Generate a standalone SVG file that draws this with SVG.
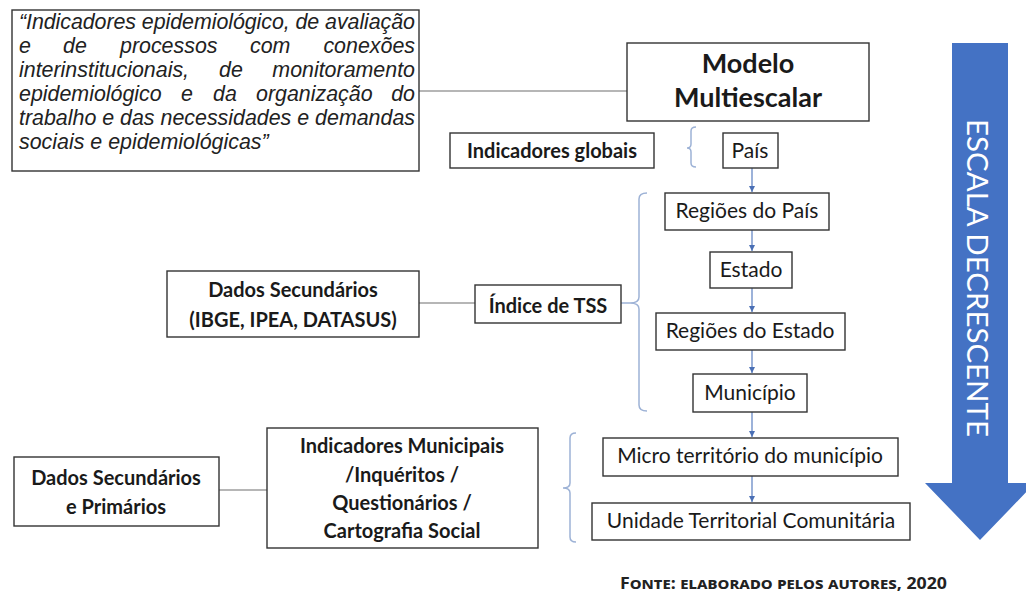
<svg xmlns="http://www.w3.org/2000/svg" width="1026" height="595" viewBox="0 0 1026 595">
<style>
.box{fill:#fff;stroke:#333;stroke-width:1.4}
.lbl{font-family:Lato,"Open Sans",sans-serif;font-size:21px;fill:#1a1a1a;text-anchor:middle}
.b{font-weight:bold}
.q{font-family:"Liberation Sans",Arial,sans-serif;font-style:italic;font-size:21.4px;fill:#222}
.link{stroke:#6e6e6e;stroke-width:1.2;fill:none}
.arr{stroke:#5b7fc0;stroke-width:1.2;fill:none;marker-end:url(#ah)}
.brace{stroke:#9db2d6;stroke-width:1.5;fill:none}
</style>
<defs>
<marker id="ah" markerWidth="8" markerHeight="8" refX="6" refY="3" orient="auto" markerUnits="userSpaceOnUse"><path d="M0,0 L6,3 L0,6 Z" fill="#4a6fb5"/></marker>
</defs>
<rect width="1026" height="595" fill="#fff"/>

<g id="connectors">
<line class="link" x1="419" y1="91" x2="627" y2="91"/>
<line class="link" x1="419" y1="303" x2="475" y2="303"/>
<line class="link" x1="219" y1="490" x2="267" y2="490"/>
<line class="arr" x1="752" y1="168" x2="752" y2="192"/>
<line class="arr" x1="752" y1="230" x2="752" y2="251"/>
<line class="arr" x1="752" y1="288" x2="752" y2="312"/>
<line class="arr" x1="752" y1="350" x2="752" y2="373"/>
<line class="arr" x1="752" y1="412" x2="752" y2="437"/>
<line class="arr" x1="752" y1="476" x2="752" y2="502"/>
<line class="brace" x1="621" y1="303" x2="630" y2="303"/>
<path class="brace" d="M696,127 Q691,127 691,131 L691,144 Q691,148 687,148 Q691,148 691,152 L691,163 Q691,167 696,167"/>
<path class="brace" d="M647,193 Q639,193 639,199 L639,297 Q639,303 630,303 Q639,303 639,309 L639,405 Q639,411 647,411"/>
<path class="brace" d="M576,433 Q570,433 570,438 L570,483 Q570,488 563,488 Q570,488 570,493 L570,537 Q570,542 576,542"/>
</g>

<g id="quote">
<rect class="box" x="12" y="10" width="407" height="161"/>
<text class="q" x="19" y="29" textLength="396" lengthAdjust="spacing">“Indicadores epidemiológico, de avaliação</text>
<text class="q" y="53"><tspan x="19">e</tspan><tspan x="63">de</tspan><tspan x="120">processos</tspan><tspan x="250">com</tspan><tspan x="415" text-anchor="end">conexões</tspan></text>
<text class="q" y="77"><tspan x="19">interinstitucionais,</tspan><tspan x="219">de</tspan><tspan x="415" text-anchor="end">monitoramento</tspan></text>
<text class="q" y="101"><tspan x="19">epidemiológico</tspan><tspan x="181">e</tspan><tspan x="213">da</tspan><tspan x="256">organização</tspan><tspan x="415" text-anchor="end">do</tspan></text>
<text class="q" x="19" y="125" textLength="396" lengthAdjust="spacing">trabalho e das necessidades e demandas</text>
<text class="q" x="19" y="149">sociais e epidemiológicas”</text>
</g>

<g id="modelo">
<rect class="box" x="627" y="43" width="242" height="78"/>
<text class="lbl b" x="748" y="73" style="font-size:27px">Modelo</text>
<text class="lbl b" x="748" y="107" style="font-size:27px">Multiescalar</text>
</g>

<g id="indicadores-globais">
<rect class="box" x="450" y="133" width="204" height="35"/>
<text class="lbl b" x="552" y="158" style="font-size:20px">Indicadores globais</text>
</g>

<g id="pais">
<rect class="box" x="723" y="133" width="55" height="35"/>
<text class="lbl" x="750" y="158">País</text>
</g>

<g id="regioes-pais">
<rect class="box" x="665" y="193" width="164" height="37"/>
<text class="lbl" x="747" y="218">Regiões do País</text>
</g>

<g id="estado">
<rect class="box" x="710" y="252" width="82" height="36"/>
<text class="lbl" x="751" y="277">Estado</text>
</g>

<g id="regioes-estado">
<rect class="box" x="656" y="313" width="189" height="37"/>
<text class="lbl" x="750" y="338">Regiões do Estado</text>
</g>

<g id="municipio">
<rect class="box" x="693" y="374" width="114" height="38"/>
<text class="lbl" x="750" y="400">Município</text>
</g>

<g id="micro">
<rect class="box" x="603" y="438" width="295" height="38"/>
<text class="lbl" x="750" y="463">Micro território do município</text>
</g>

<g id="unidade">
<rect class="box" x="592" y="503" width="318" height="37"/>
<text class="lbl" x="751" y="528">Unidade Territorial Comunitária</text>
</g>

<g id="dados-sec">
<rect class="box" x="167" y="271" width="252" height="66"/>
<text class="lbl b" x="293" y="297" style="font-size:20px">Dados Secundários</text>
<text class="lbl b" x="293" y="327" style="font-size:20px">(IBGE, IPEA, DATASUS)</text>
</g>

<g id="indice-tss">
<rect class="box" x="475" y="285" width="146" height="38"/>
<text class="lbl b" x="548" y="313" style="font-size:20px">Índice de TSS</text>
</g>

<g id="dados-sec-prim">
<rect class="box" x="14" y="457" width="205" height="69"/>
<text class="lbl b" x="116" y="485" style="font-size:20px">Dados Secundários</text>
<text class="lbl b" x="116" y="514" style="font-size:20px">e Primários</text>
</g>

<g id="ind-municipais">
<rect class="box" x="267" y="428" width="271" height="120"/>
<text class="lbl b" x="402" y="453" style="font-size:20px">Indicadores Municipais</text>
<text class="lbl b" x="402" y="482" style="font-size:20px">/Inquéritos /</text>
<text class="lbl b" x="402" y="510" style="font-size:20px">Questionários /</text>
<text class="lbl b" x="402" y="538" style="font-size:20px">Cartografia Social</text>
</g>

<g id="escala">
<path d="M952,43 L1008,43 L1008,483 L1035,483 L980,540 L925,483 L952,483 Z" fill="#4472c4"/>
<text transform="translate(967,119) rotate(90)" x="0" y="0" textLength="318" lengthAdjust="spacingAndGlyphs" style="font-family:Lato,'Open Sans',sans-serif;font-size:29px;fill:#fff">ESCALA DECRESCENTE</text>
</g>

<text x="620" y="589" textLength="327" lengthAdjust="spacingAndGlyphs" style="font-family:'Noto Sans','Open Sans',sans-serif;font-weight:bold;font-size:16px;font-variant:small-caps;fill:#222">Fonte: elaborado pelos autores, 2020</text>
</svg>
